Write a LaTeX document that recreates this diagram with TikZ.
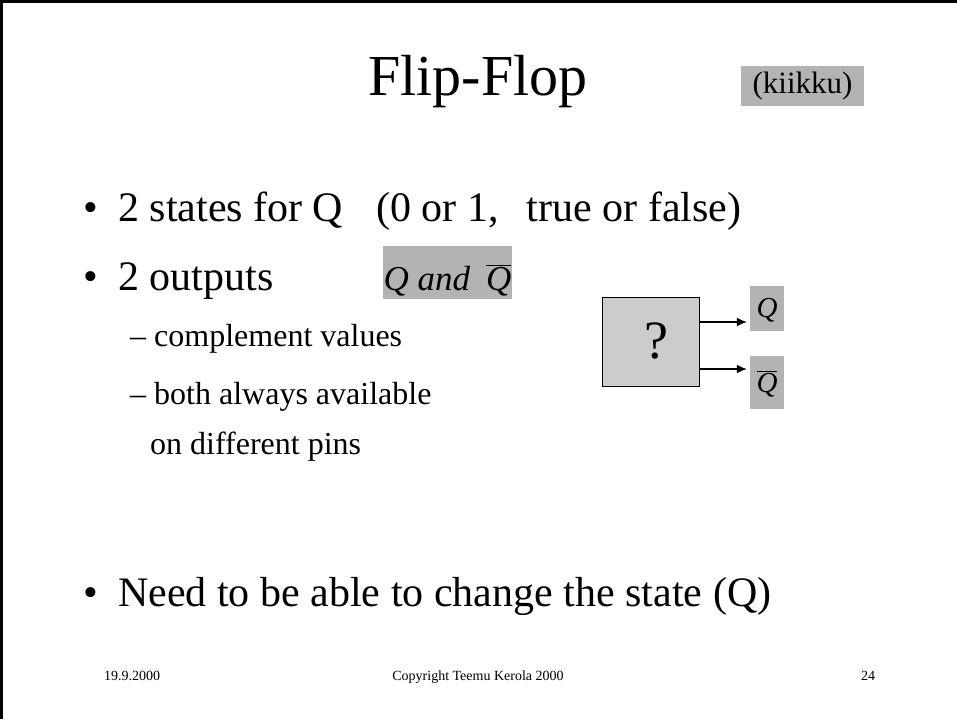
\documentclass[tikz,border=0pt]{standalone}
\usepackage{fontspec}
\setmainfont{Liberation Serif}
\usetikzlibrary{arrows.meta}
\newcommand{\qbar}{\ensuremath{\overline{\mbox{\itshape Q}}}}
\definecolor{tagfill}{HTML}{B3B3B3}
\definecolor{boxfill}{HTML}{CCCCCC}
\tikzset{
  txt/.style={anchor=base west, inner sep=0pt},
  tag/.style={fill=tagfill, inner sep=0pt, anchor=base},
  pinarrow/.style={-{Latex[length=10pt,width=9pt]}, line width=1.3pt, shorten >=3pt},
}
\begin{document}
\begin{tikzpicture}[x=1pt,y=-1pt]
  \useasboundingbox (0,0) rectangle (957,719);
  \draw[line width=3pt] (1.5,719) -- (1.5,1.5) -- (957,1.5);
  % title
  \node[anchor=base, inner sep=0pt, font=\fontsize{58}{60}\selectfont] (title) at (478,96) {Flip-Flop};
  \node[tag, minimum width=123pt, text height=28pt, text depth=12pt, font=\fontsize{31}{33}\selectfont] (fin) at (802.5,94) {(kiikku)};
  % bullets
  \begin{scope}[every node/.style={txt, font=\fontsize{42}{44}\selectfont}]
    \node (b1) at (83,222) {\textbullet};
    \node (t1) at (118,222) {2 states for Q\hspace{33pt}(0 or 1,\hspace{28pt}true or false)};
    \node (b2) at (83,290) {\textbullet};
    \node (t2) at (118,290) {2 outputs};
    \node (b3) at (83,606) {\textbullet};
    \node (t3) at (118,606) {Need to be able to change the state (Q)};
  \end{scope}
  \begin{scope}[every node/.style={txt, font=\fontsize{32}{34}\selectfont}]
    \node (s1) at (130,346) {-- complement values};
    \node (s2) at (130,404) {-- both always available};
    \node (s3) at (150,454) {on different pins};
  \end{scope}
  \node[tag, minimum width=129pt, text height=44pt, text depth=9pt, font=\fontsize{35}{37}\selectfont] (qq) at (447.5,290) {\itshape Q and\hspace{16pt}\qbar};
  % flip-flop box
  \node[draw, line width=1pt, fill=boxfill, minimum width=97pt, minimum height=89pt, font=\fontsize{54}{56}\selectfont] (ff) at (650.5,341.5) {\hspace{12pt}?};
  \node[tag, minimum width=34pt, text height=31pt, text depth=14pt, font=\fontsize{29}{31}\selectfont] (q) at (767,317) {\itshape Q};
  \node[tag, minimum width=34pt, text height=36pt, text depth=17pt, font=\fontsize{29}{31}\selectfont] (nq) at (767,392) {\qbar};
  \draw[pinarrow] (ff.east |- 0,322) -- (q.west |- 0,322);
  \draw[pinarrow] (ff.east |- 0,369) -- (nq.west |- 0,369);
  % footer
  \begin{scope}[every node/.style={anchor=base, inner sep=0pt, font=\fontsize{14}{16}\selectfont}]
    \node (date) at (132,680) {19.9.2000};
    \node (copy) at (478,680) {Copyright Teemu Kerola 2000};
    \node (page) at (868,680) {24};
  \end{scope}
\end{tikzpicture}
\end{document}
